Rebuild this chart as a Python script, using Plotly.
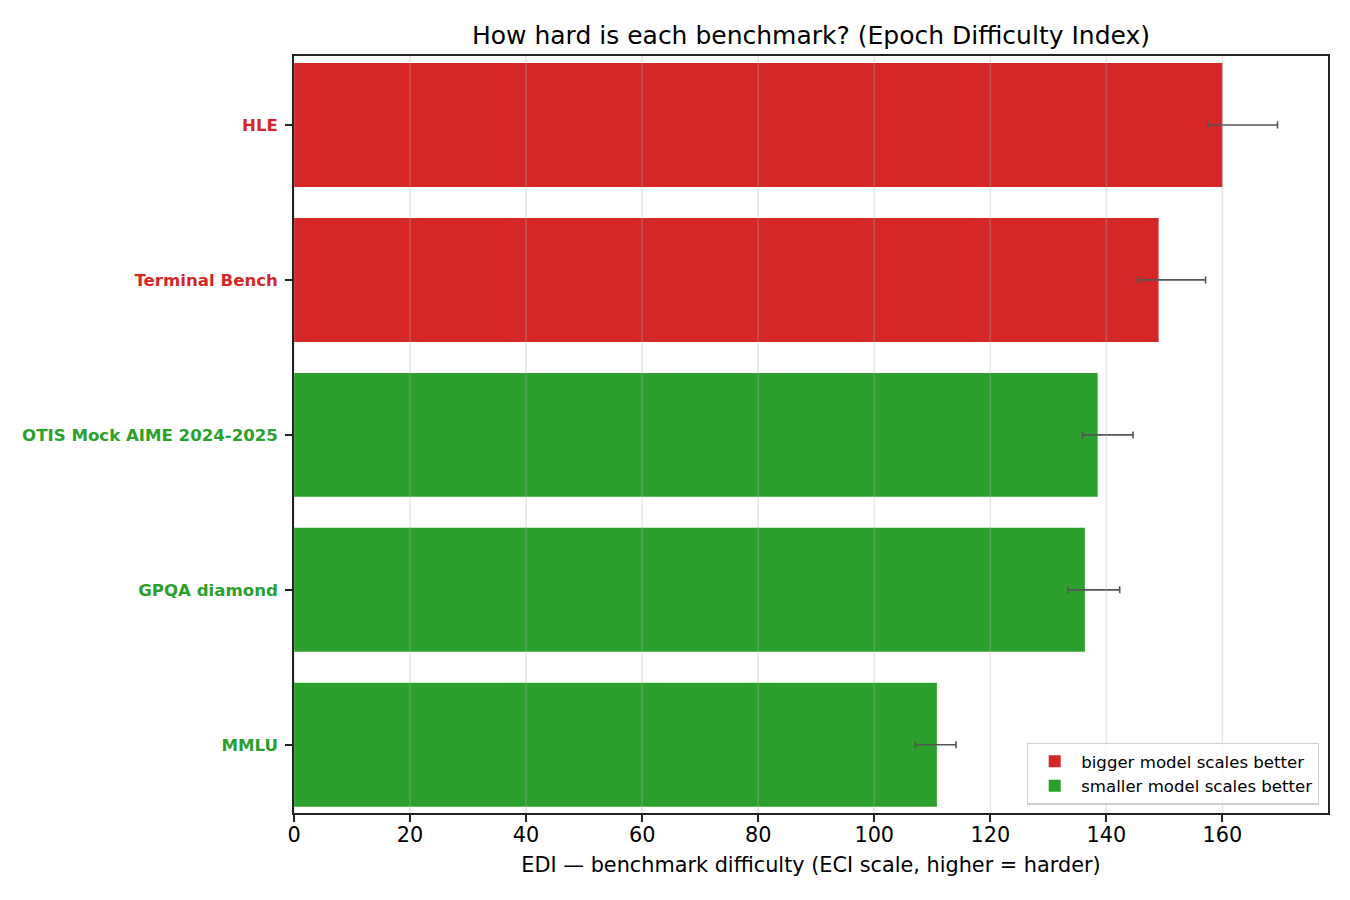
import plotly.graph_objects as go

# ---- data ----
categories = ["HLE", "Terminal Bench", "OTIS Mock AIME 2024-2025", "GPQA diamond", "MMLU"]
edi_values = [160.0, 149.0, 138.5, 136.3, 110.8]
ci_lower = [157.5, 145.5, 135.9, 133.4, 107.1]
ci_upper = [169.5, 157.1, 144.6, 142.3, 114.1]
group = ["bigger", "bigger", "smaller", "smaller", "smaller"]
group_names = {"bigger": "bigger model scales better", "smaller": "smaller model scales better"}
group_colors = {"bigger": "#d62728", "smaller": "#2ca02c"}
xticks = [0, 20, 40, 60, 80, 100, 120, 140, 160]

FONT = "DejaVu Sans"
fig = go.Figure()

for g in ["bigger", "smaller"]:
    idx = [i for i, gg in enumerate(group) if gg == g]
    fig.add_trace(go.Bar(
        y=[categories[i] for i in idx],
        x=[edi_values[i] for i in idx],
        orientation="h",
        width=0.8,
        name=group_names[g],
        marker=dict(color=group_colors[g], line=dict(width=0)),
        error_x=dict(
            type="data", symmetric=False,
            array=[ci_upper[i] - edi_values[i] for i in idx],
            arrayminus=[edi_values[i] - ci_lower[i] for i in idx],
            color="#555555", thickness=1.6, width=3.5,
        ),
    ))

# grid lines drawn above bars (as in reference)
for t in xticks:
    fig.add_shape(type="line", xref="x", yref="paper", x0=t, x1=t, y0=0, y1=1,
                  line=dict(color="rgba(176,176,176,0.3)", width=1.6), layer="above")

ticktext = [
    f"<b><span style='color:{group_colors[g]}'>{c}</span></b>" for c, g in zip(categories, group)
]

fig.update_layout(
    width=1342, height=892,
    margin=dict(l=286, r=22, t=48, b=87, autoexpand=False),
    paper_bgcolor="white", plot_bgcolor="white",
    barmode="overlay",
    font=dict(family=FONT, color="black", size=20.8),
    title=dict(
        text="How hard is each benchmark? (Epoch Difficulty Index)",
        font=dict(family=FONT, size=25, color="black"),
        x=0.5, xref="paper", xanchor="center",
        y=1, yref="paper", yanchor="bottom",
        pad=dict(b=12),
    ),
    xaxis=dict(
        range=[0, 178.2],
        tickvals=xticks,
        showgrid=False, zeroline=False,
        showline=True, linecolor="#222222", linewidth=1.6, mirror=True,
        ticks="outside", ticklen=7, tickwidth=1.6, tickcolor="#222222",
        tickfont=dict(family=FONT, size=20.8, color="black"),
        ticklabelstandoff=-5,
        title=dict(text="EDI — benchmark difficulty (ECI scale, higher = harder)",
                   font=dict(family=FONT, size=20.8, color="black"), standoff=12),
        automargin=False,
    ),
    yaxis=dict(
        type="category",
        categoryorder="array", categoryarray=categories,
        range=[4.44, -0.445],
        tickvals=categories, ticktext=ticktext,
        showgrid=False, zeroline=False,
        showline=True, linecolor="#222222", linewidth=1.6, mirror=True,
        ticks="outside", ticklen=7, tickwidth=1.6, tickcolor="#222222",
        tickfont=dict(family=FONT, size=16.6),
        ticklabelstandoff=4,
        automargin=False,
    ),
    legend=dict(
        x=0.9913, xanchor="right", y=0.011, yanchor="bottom",
        bordercolor="#d0d0d0", borderwidth=1.2, bgcolor="rgba(255,255,255,0.8)",
        font=dict(family=FONT, size=16.6, color="black"),
        itemwidth=43,
        traceorder="normal",
    ),
    showlegend=True,
)

fig.write_html("out.html")
